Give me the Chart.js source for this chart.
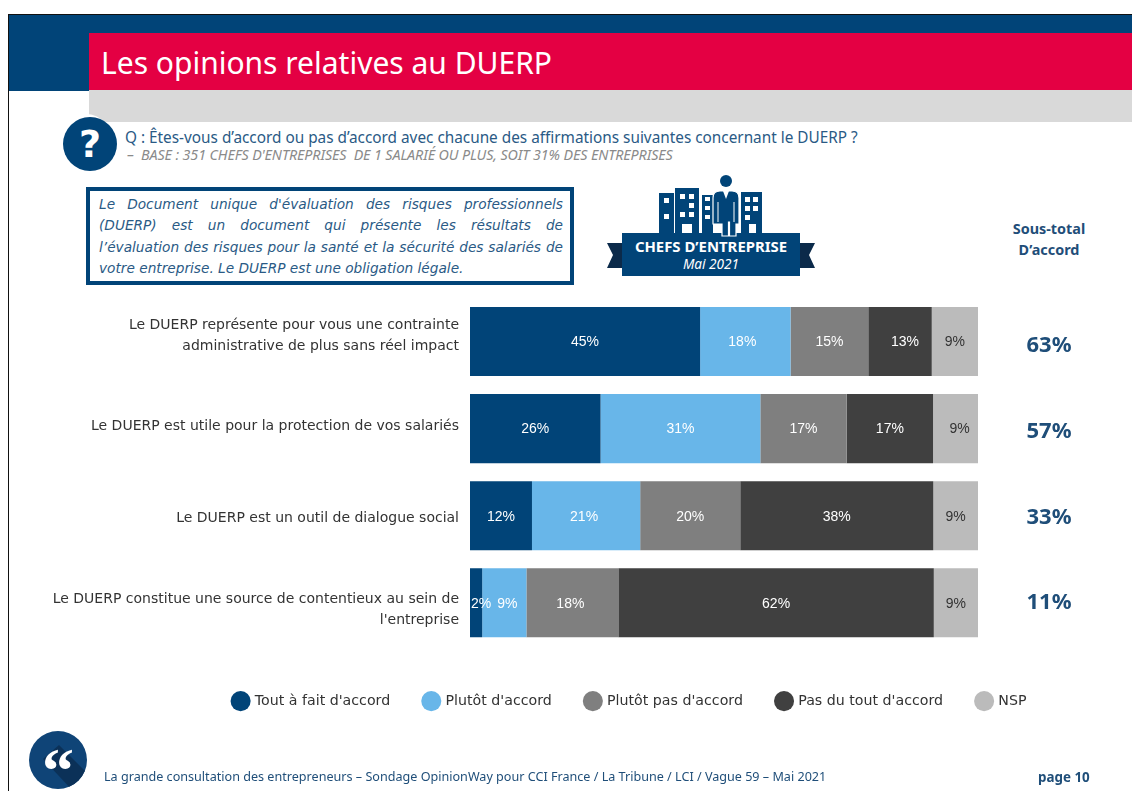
<!DOCTYPE html>
<html lang="fr"><head><meta charset="utf-8">
<script src="https://cdn.jsdelivr.net/npm/chart.js@4"></script>
<style>
html,body{margin:0;padding:0;background:#fff;width:1132px;height:791px;overflow:hidden}
body{position:relative;font-family:"Noto Sans",sans-serif}
.a{position:absolute;white-space:pre}
canvas{position:absolute;left:0;top:0}
.line{display:block;text-align:justify;text-align-last:justify;white-space:normal}
</style></head><body>
<div class="a" style="left:8px;top:14px;width:1124px;height:1px;background:#111"></div>
<div class="a" style="left:8px;top:14px;width:1px;height:777px;background:#111"></div>
<div class="a" style="left:9px;top:15px;width:1123px;height:18px;background:#014478"></div>
<div class="a" style="left:9px;top:33px;width:80px;height:58px;background:#014478"></div>
<div class="a" style="left:89px;top:33px;width:1043px;height:57px;background:#E40043"></div>
<div class="a" style="left:89px;top:90px;width:1043px;height:32px;background:#D9D9D9"></div>
<div class="a" style="left:101px;top:42px;font-size:30px;line-height:42px;color:#fff">Les opinions relatives au DUERP</div>
<div class="a" style="left:59px;top:114px;width:54px;height:60px;border-radius:50%;background:#fff"></div>
<div class="a" style="left:63px;top:117px;width:54px;height:54px;border-radius:50%;background:#014478;color:#fff;font:bold 38px/54px 'DejaVu Sans';text-align:center">?</div>
<div class="a" style="left:125px;top:127px;font-size:15.33px;line-height:21px;color:#2A5A85">Q : Êtes-vous d’accord ou pas d’accord avec chacune des affirmations suivantes concernant le DUERP ?</div>
<div class="a" style="left:127px;top:146px;font-size:14.3px;line-height:18px;font-style:italic;color:#8a8a8a;letter-spacing:-.1px">–  BASE : 351 CHEFS D'ENTREPRISES  DE 1 SALARIÉ OU PLUS, SOIT 31% DES ENTREPRISES</div>
<div class="a" style="left:86px;top:187px;width:480px;height:90px;border:4px solid #014478;background:#fff"></div>
<div class="a" style="left:99px;top:194px;width:464px;font-family:'DejaVu Sans';font-size:13.7px;line-height:21.3px;font-style:italic;color:#2A5A85;white-space:normal">
<span class="line">Le Document unique d'évaluation des risques professionnels</span>
<span class="line">(DUERP) est un document qui présente les résultats de</span>
<span class="line">l’évaluation des risques pour la santé et la sécurité des salariés de</span>
<span style="display:block">votre entreprise. Le DUERP est une obligation légale.</span></div>

<svg class="a" style="left:600px;top:170px" width="225" height="110" viewBox="600 170 225 110">
<polygon points="622,243 607,243 613,255 607,268 622,268" fill="#0B2A4A"/>
<polygon points="800,243 815,243 809,255 815,268 800,268" fill="#0B2A4A"/>
<g fill="#014478">
<rect x="659" y="193" width="15" height="40"/><rect x="675" y="188" width="24" height="45"/>
<rect x="702" y="195" width="11" height="38"/><rect x="741" y="192" width="21" height="41"/>
</g>
<g fill="#fff">
<rect x="664" y="198" width="5" height="5"/><rect x="664" y="214" width="5" height="5"/>
<rect x="680" y="194" width="5" height="5"/><rect x="689" y="194" width="5" height="5"/>
<rect x="689" y="203" width="5" height="5"/><rect x="680" y="212" width="5" height="5"/><rect x="689" y="212" width="5" height="5"/>
<rect x="705" y="197" width="5" height="4"/><rect x="705" y="206" width="5" height="4"/><rect x="705" y="215" width="5" height="4"/>
<rect x="745" y="197" width="5" height="5"/><rect x="753" y="197" width="5" height="5"/>
<rect x="745" y="206" width="5" height="5"/><rect x="753" y="206" width="5" height="5"/><rect x="745" y="215" width="5" height="5"/>
<rect x="682" y="224" width="10" height="9"/><rect x="749" y="224" width="7" height="9"/>
</g>
<rect x="622" y="233" width="178" height="43" fill="#014478"/>
<circle cx="726" cy="181" r="6" fill="#014478"/>
<path d="M713 198q0-7 7-7h12q7 0 7 7v26h-3v12h-6.500v-14h-1v14h-6.500v-12h-9z" fill="#014478" stroke="#fff" stroke-width="1.200"/>
<path d="M718 202v20M734 202v20" stroke="#fff" stroke-width="1" fill="none"/>
<polygon points="723,191 729,191 726,199" fill="#fff"/>
</svg>
<div class="a" style="left:622px;top:236px;width:178px;text-align:center;font-size:14.9px;line-height:20px;font-weight:700;color:#fff">CHEFS D’ENTREPRISE</div>
<div class="a" style="left:622px;top:255px;width:178px;text-align:center;font-size:13.6px;line-height:17px;font-style:italic;color:#fff">Mai 2021</div>
<div class="a" style="left:989px;top:218px;width:120px;text-align:center;font-size:14.4px;line-height:21px;font-weight:700;color:#1F4E79">Sous-total
D’accord</div>

<canvas id="c" width="1132" height="791"></canvas>

<div class="a" style="left:29px;top:731px;width:58px;height:58px;border-radius:50%;background:#0F4477;overflow:hidden">
<svg width="58" height="58" style="position:absolute;left:0;top:0"><polygon points="14,28 30,14 60,44 60,60 44,60" fill="#0B3158"/></svg>
<div style="position:absolute;left:0;top:8px;width:58px;text-align:center;font:bold 64px/64px 'Liberation Serif';color:#fff">“</div></div>
<div class="a" style="left:104px;top:769px;font-size:12.6px;line-height:16px;color:#1F4E79">La grande consultation des entrepreneurs – Sondage OpinionWay pour CCI France / La Tribune / LCI / Vague 59 – Mai 2021</div>
<div class="a" style="left:1038px;top:768px;font-size:13.4px;line-height:18px;font-weight:700;color:#1F4E79">page 10</div>

<script>
const categories = [
  ["Le DUERP représente pour vous une contrainte", "administrative de plus sans réel impact"],
  "Le DUERP est utile pour la protection de vos salariés",
  "Le DUERP est un outil de dialogue social",
  ["Le DUERP constitue une source de contentieux au sein de", "l'entreprise"]
];
const seriesNames = ["Tout à fait d'accord", "Plutôt d'accord", "Plutôt pas d'accord", "Pas du tout d'accord", "NSP"];
const toutAFait = [45.3, 25.7, 12.2, 2.4];
const plutot = [17.8, 31.45, 21.3, 8.7];
const plutotPas = [15.3, 17.0, 19.7, 18.1];
const pasDuTout = [12.5, 17.0, 38.0, 62.1];
const nsp = [9.1, 8.85, 8.8, 8.7];
const sousTotal = ["63%", "57%", "33%", "11%"];
const colors = ["#014478", "#68B6E9", "#7F7F7F", "#404040", "#BBBBBB"];
const textColors = ["#fff", "#fff", "#fff", "#fff", "#333"];

const FONT = '"DejaVu Sans", sans-serif';
const labelNudgeX = {"0,1": -3, "0,3": 5, "1,4": 4, "2,1": -2, "3,0": 5, "3,1": 3, "3,2": -2};
const tickNudgeY = [-6, -2, 3, 7];
const totalNudgeY = [4.5, 3.5, 2.5, 0];

const barLabels = {
  id: "barLabels",
  afterDatasetsDraw(chart) {
    const ctx = chart.ctx;
    ctx.save();
    ctx.font = "14px 'Liberation Sans'";
    ctx.textAlign = "center";
    ctx.textBaseline = "middle";
    chart.data.datasets.forEach((ds, d) => {
      chart.getDatasetMeta(d).data.forEach((bar, i) => {
        const p = bar.getProps(["x", "y", "base"], true);
        ctx.fillStyle = textColors[d];
        ctx.fillText(Math.round(ds.data[i]) + "%", (p.x + p.base) / 2 + (labelNudgeX[i + "," + d] || 0), p.y + 1);
      });
    });
    ctx.font = "bold 22px 'Noto Sans'";
    ctx.fillStyle = "#1F4E79";
    const m = chart.getDatasetMeta(0).data;
    sousTotal.forEach((t, i) => ctx.fillText(t, 1049, m[i].y + totalNudgeY[i]));
    ctx.restore();
  }
};
const placeParts = {
  id: "placeParts",
  afterLayout(chart) {
    const l = chart.legend;
    l.left += 141; l.right += 141;
    l.top = 660; l.bottom = 730;
  },
  beforeDraw(chart) {
    chart.scales.y.getLabelItems(chart.chartArea).forEach((it, i) => {
      if (!it.nudged) { it.options.translation[1] += tickNudgeY[i]; it.nudged = true; }
    });
  }
};

new Chart(document.getElementById("c"), {
  type: "bar",
  data: {
    labels: categories,
    datasets: [toutAFait, plutot, plutotPas, pasDuTout, nsp].map((d, i) => ({
      label: seriesNames[i], data: d, backgroundColor: colors[i], borderWidth: 0,
      categoryPercentage: 1, barPercentage: 69 / 87
    }))
  },
  options: {
    indexAxis: "y", responsive: false, animation: false,
    layout: { padding: { left: 0, right: 154, top: 298, bottom: 86.5 } },
    scales: {
      x: { stacked: true, min: 0, max: 100, display: false },
      y: {
        stacked: true,
        grid: { display: false, drawTicks: false }, border: { display: false },
        ticks: { padding: 11, color: "#333", font: { family: FONT, size: 14, lineHeight: 1.5 } },
        afterFit(s) { s.width = 470; }
      }
    },
    plugins: {
      tooltip: { enabled: false },
      legend: {
        position: "bottom",
        labels: { usePointStyle: true, pointStyle: "circle", padding: 34, color: "#333", font: { family: FONT, size: 14.2 } }
      }
    }
  },
  plugins: [barLabels, placeParts]
});
</script>
</body></html>
